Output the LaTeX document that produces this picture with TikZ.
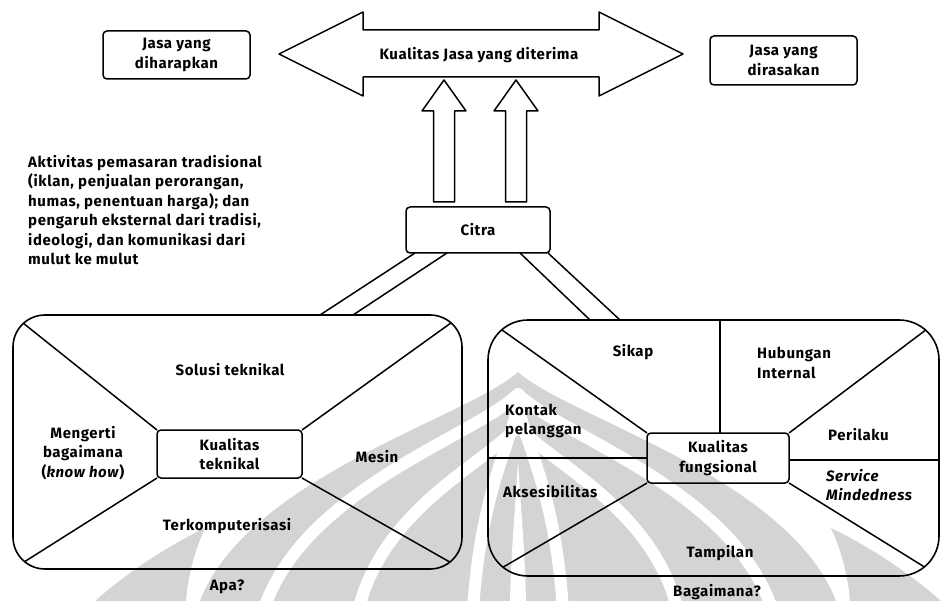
\documentclass[tikz,border=0pt]{standalone}
\usepackage{fontspec}
\setmainfont{Fira Sans}[LetterSpace=4]
\usetikzlibrary{calc}

\tikzset{
  txt/.style={font=\bfseries\fontsize{15}{19.5}\selectfont, align=center, inner sep=0pt},
  labelbox/.style={draw, line width=1.5pt, rounded corners=4pt, inner sep=0pt, outer sep=0pt, txt},
  region/.style={draw, line width=1.6pt, inner sep=0pt, outer sep=0pt},
  ln/.style={line width=1.5pt},
  shade/.style={black!17},
  gap/.style={draw=white, line width=12pt},
}

\begin{document}
\begin{tikzpicture}[x=1pt, y=-1pt, line join=round]
\useasboundingbox (0,0) rectangle (941,601);

% faint emblem in the background: a shaded dome cut by white bands
\begin{scope}
  \clip (0,0) rectangle (941,601);
  \fill[shade] (518,372)
      .. controls ({518+0.16*318},{372+0.2*229}) and ({518+0.85*318},{372+0.46*229}) .. ({518+318},601)
      -- ({518+318},640) -- ({518-318},640) -- ({518-318},601)
      .. controls ({518-0.85*318},{372+0.46*229}) and ({518-0.16*318},{372+0.2*229}) .. (518,372) -- cycle;
  \foreach \t/\w in {394/255, 425/160, 405/45} {
    \draw[gap] ({518-\w},612)
      .. controls ({518-0.85*\w},{\t+0.46*(601-\t)}) and ({518-0.16*\w},{\t+0.2*(601-\t)}) .. (518,\t)
      .. controls ({518+0.16*\w},{\t+0.2*(601-\t)}) and ({518+0.85*\w},{\t+0.46*(601-\t)}) .. ({518+\w},612);
  }
  \fill[white] (518,460) .. controls (516,500) and (510,560) .. (510,612)
     -- (526,612) .. controls (526,560) and (520,500) .. (518,460) -- cycle;
  \fill[shade] (95,601) .. controls (130,570) and (170,545) .. (205,528)
     .. controls (195,550) and (188,575) .. (186,601) -- cycle;
  \fill[shade] (941,601) .. controls (906,570) and (866,545) .. (831,528)
     .. controls (841,550) and (848,575) .. (850,601) -- cycle;
\end{scope}

% top row
\node[labelbox, minimum width=147pt, minimum height=48pt] (expected) at (176.5,55) {Jasa yang\\diharapkan};
\node[labelbox, minimum width=147pt, minimum height=49pt] (perceived) at (783.5,60.5) {Jasa yang\\dirasakan};

% double-headed arrow of perceived quality
\draw[ln] (279,54) -- (363,12) -- (363,30) -- (599,30) -- (599,12) -- (683,54)
          -- (599,96) -- (599,77) -- (363,77) -- (363,96) -- cycle;
\node[txt] (quality) at (479,55) {Kualitas Jasa yang diterima};

% image box and the two block arrows rising from it
\node[labelbox, minimum width=144pt, minimum height=46pt] (citra) at (478,230) {Citra};
\coordinate (upA) at (444,80);
\coordinate (upB) at (516,80);
\foreach \u in {upA, upB} {
  \draw[ln] ($(\u)+(-10.5,122)$) -- ($(\u)+(-10.5,31)$) -- ($(\u)+(-22,31)$) -- (\u)
        -- ($(\u)+(22,31)$) -- ($(\u)+(10.5,31)$) -- ($(\u)+(10.5,122)$) -- cycle;
}

% explanatory paragraph
\node[txt, align=left, anchor=north west] (influence) at (28,155)
  {Aktivitas pemasaran tradisional\\(iklan, penjualan perorangan,\\humas, penentuan harga); dan\\pengaruh eksternal dari tradisi,\\ideologi, dan komunikasi dari\\mulut ke mulut};

% technical quality panel
\node[region, rounded corners=32pt, minimum width=449pt, minimum height=254pt] (lbox) at (237.5,442) {};
\node[labelbox, minimum width=145pt, minimum height=48pt] (tek) at (229.5,454) {Kualitas\\teknikal};
\begin{scope}
  \clip[rounded corners=32pt] (lbox.north west) rectangle (lbox.south east);
  \draw[ln] (tek.north west) -- (lbox.north west);
  \draw[ln] (tek.north east) -- (lbox.north east);
  \draw[ln] (tek.south west) -- (lbox.south west);
  \draw[ln] (tek.south east) -- (lbox.south east);
\end{scope}
\node[txt] (solusi) at (230,370) {Solusi teknikal};
\node[txt] (knowhow) at (83,453) {Mengerti\\bagaimana\\(\textit{know how})};
\node[txt] (mesin) at (377,457) {Mesin};
\node[txt] (komputer) at (227,526) {Terkomputerisasi};
\node[txt] (apa) at (227,587) {Apa?};

% functional quality panel
\node[region, rounded corners=40pt, minimum width=451pt, minimum height=256pt] (rbox) at (713.5,448) {};
\node[labelbox, minimum width=142pt, minimum height=50pt] (fung) at (718,458) {Kualitas\\fungsional};
\begin{scope}
  \clip[rounded corners=40pt] (rbox.north west) rectangle (rbox.south east);
  \draw[ln] (fung.north west) -- (rbox.north west);
  \draw[ln] (fung.north east) -- (rbox.north east);
  \draw[ln] (fung.south west) -- (rbox.south west);
  \draw[ln] (fung.south east) -- (rbox.south east);
\end{scope}
\draw[ln] ($(fung.north)+(2,0)$) -- ($(fung.north |- rbox.north)+(2,0)$);
\draw[ln] (fung.west) -- (fung.west -| rbox.west);
\draw[ln] ($(fung.east)+(0,2)$) -- ($(fung.east -| rbox.east)+(0,2)$);
\node[txt] (sikap) at (633,352) {Sikap};
\node[txt, align=left, anchor=west] (hubungan) at (757,363) {Hubungan\\Internal};
\node[txt, align=left, anchor=west] (kontak) at (505,421) {Kontak\\pelanggan};
\node[txt, anchor=west] (akses) at (503,492) {Aksesibilitas};
\node[txt, anchor=west] (perilaku) at (828,435) {Perilaku};
\node[txt, align=left, anchor=west] (mind) at (826,485) {\textit{Service}\\\textit{Mindedness}};
\node[txt] (tampilan) at (720,553) {Tampilan};
\node[txt] (bagaimana) at (717,592) {Bagaimana?};

% links from the image box down to both panels
\draw[ln] ($(citra.south west)+(9,0)$) -- ($(lbox.north west)+(307,0)$);
\draw[ln] ($(citra.south west)+(41,0)$) -- ($(lbox.north west)+(340,0)$);
\draw[ln] ($(citra.south east)+(-30,0)$) -- ($(rbox.north west)+(102,0)$);
\draw[ln] ($(citra.south east)+(-2,0)$) -- ($(rbox.north west)+(132,0)$);
\end{tikzpicture}
\end{document}
